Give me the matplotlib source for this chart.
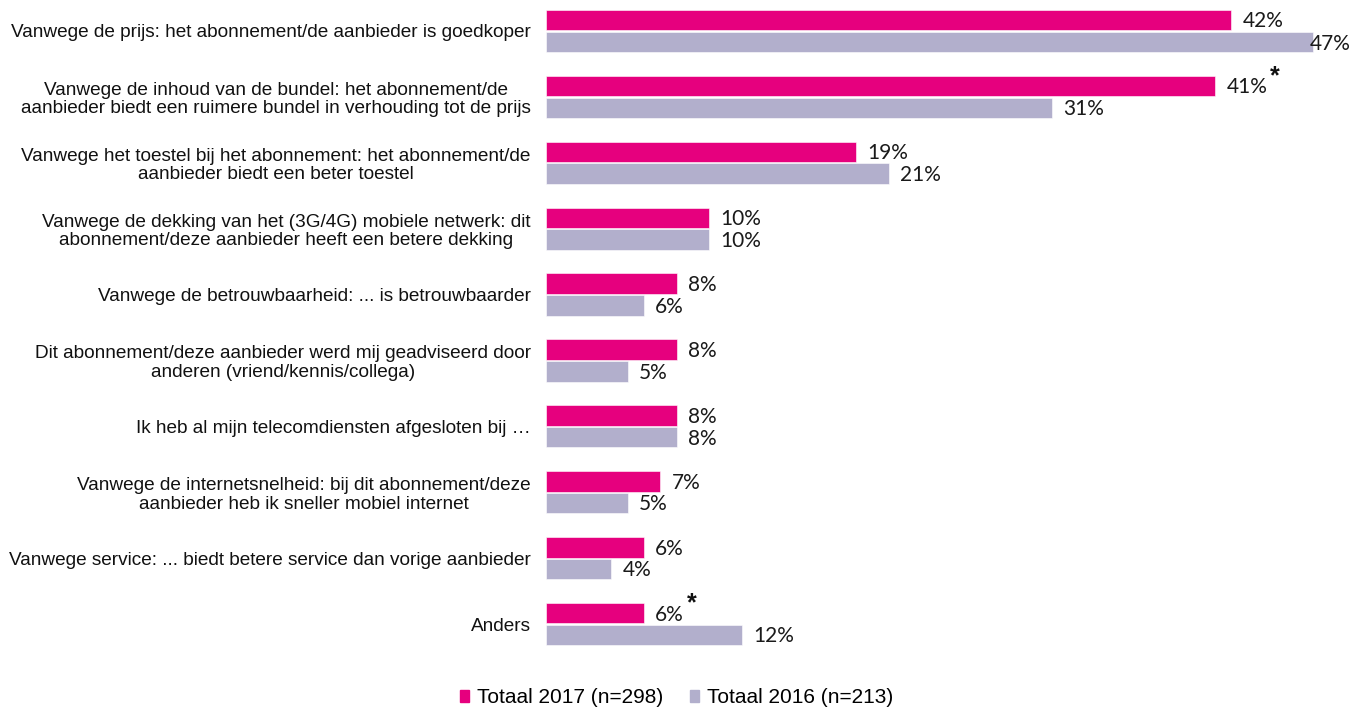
import numpy as np
import matplotlib.pyplot as plt
from matplotlib.patches import Patch

categories = [
    'Vanwege de prijs: het abonnement/de aanbieder is goedkoper',
    'Vanwege de inhoud van de bundel: het abonnement/de\naanbieder biedt een ruimere bundel in verhouding tot de prijs',
    'Vanwege het toestel bij het abonnement: het abonnement/de\naanbieder biedt een beter toestel',
    'Vanwege de dekking van het (3G/4G) mobiele netwerk: dit\nabonnement/deze aanbieder heeft een betere dekking',
    'Vanwege de betrouwbaarheid: ... is betrouwbaarder',
    'Dit abonnement/deze aanbieder werd mij geadviseerd door\nanderen (vriend/kennis/collega)',
    'Ik heb al mijn telecomdiensten afgesloten bij \u2026',
    'Vanwege de internetsnelheid: bij dit abonnement/deze\naanbieder heb ik sneller mobiel internet',
    'Vanwege service: ... biedt betere service dan vorige aanbieder',
    'Anders',
]
totaal_2017 = [42, 41, 19, 10, 8, 8, 8, 7, 6, 6]
totaal_2016 = [47, 31, 21, 10, 6, 5, 8, 5, 4, 12]
significant_2017 = [False, True, False, False, False, False, False, False, False, True]

legend_labels = ['Totaal 2017 (n=298)', 'Totaal 2016 (n=213)']
c2017 = '#E6007E'
c2016 = '#B2AFCC'

plt.rcParams['font.family'] = ['Liberation Sans', 'DejaVu Sans']

fig = plt.figure(figsize=(13.53, 7.07), dpi=100)
ax = fig.add_axes([546 / 1353, 1 - 660 / 707, 807 / 1353, 660 / 707])

y = np.arange(len(categories))
h = 0.31
off = 0.165
ax.barh(y - off, totaal_2017, height=h, color=c2017, edgecolor='white', linewidth=0.4)
ax.barh(y + off, totaal_2016, height=h, color=c2016, edgecolor='white', linewidth=0.4)

xmax = 807 / 16.32
ax.set_xlim(0, xmax)
ax.set_ylim(9.545, -0.47)

val_font = dict(family=['Lato', 'DejaVu Sans'], fontsize=15, color='#1a1a1a')
for i in range(len(categories)):
    labels = []
    for v, yy in ((totaal_2017[i], y[i] - off), (totaal_2016[i], y[i] + off)):
        x = v + 0.7
        if x + 2.6 > xmax:
            t = ax.text(xmax - 0.15, yy + 0.04, '%d%%' % v, ha='right', va='center', **val_font)
        else:
            t = ax.text(x, yy + 0.02, '%d%%' % v, ha='left', va='center', **val_font)
        labels.append(t)
    if significant_2017[i]:
        # star sits just after the 2017 value label, raised
        ax.annotate('*', xy=(1, 0.9), xycoords=labels[0], xytext=(2, 2),
                    textcoords='offset points', ha='left', va='center',
                    fontsize=18, fontweight='bold', color='#111111')

ax.set_yticks(y)
ax.set_yticklabels(categories, fontsize=13.7, color='#111111', linespacing=1.1,
                   multialignment='center')
ax.tick_params(axis='y', length=0, pad=11)
ax.set_xticks([])
for s in ax.spines.values():
    s.set_visible(False)

handles = [Patch(color=c2017), Patch(color=c2016)]
fig.legend(handles, legend_labels, loc='lower center', bbox_to_anchor=(0.5, -0.027),
           ncol=2, frameon=False, fontsize=15, handlelength=0.45, handleheight=0.45,
           handletextpad=0.35, columnspacing=1.3)

fig.savefig('out.png', dpi=100)
